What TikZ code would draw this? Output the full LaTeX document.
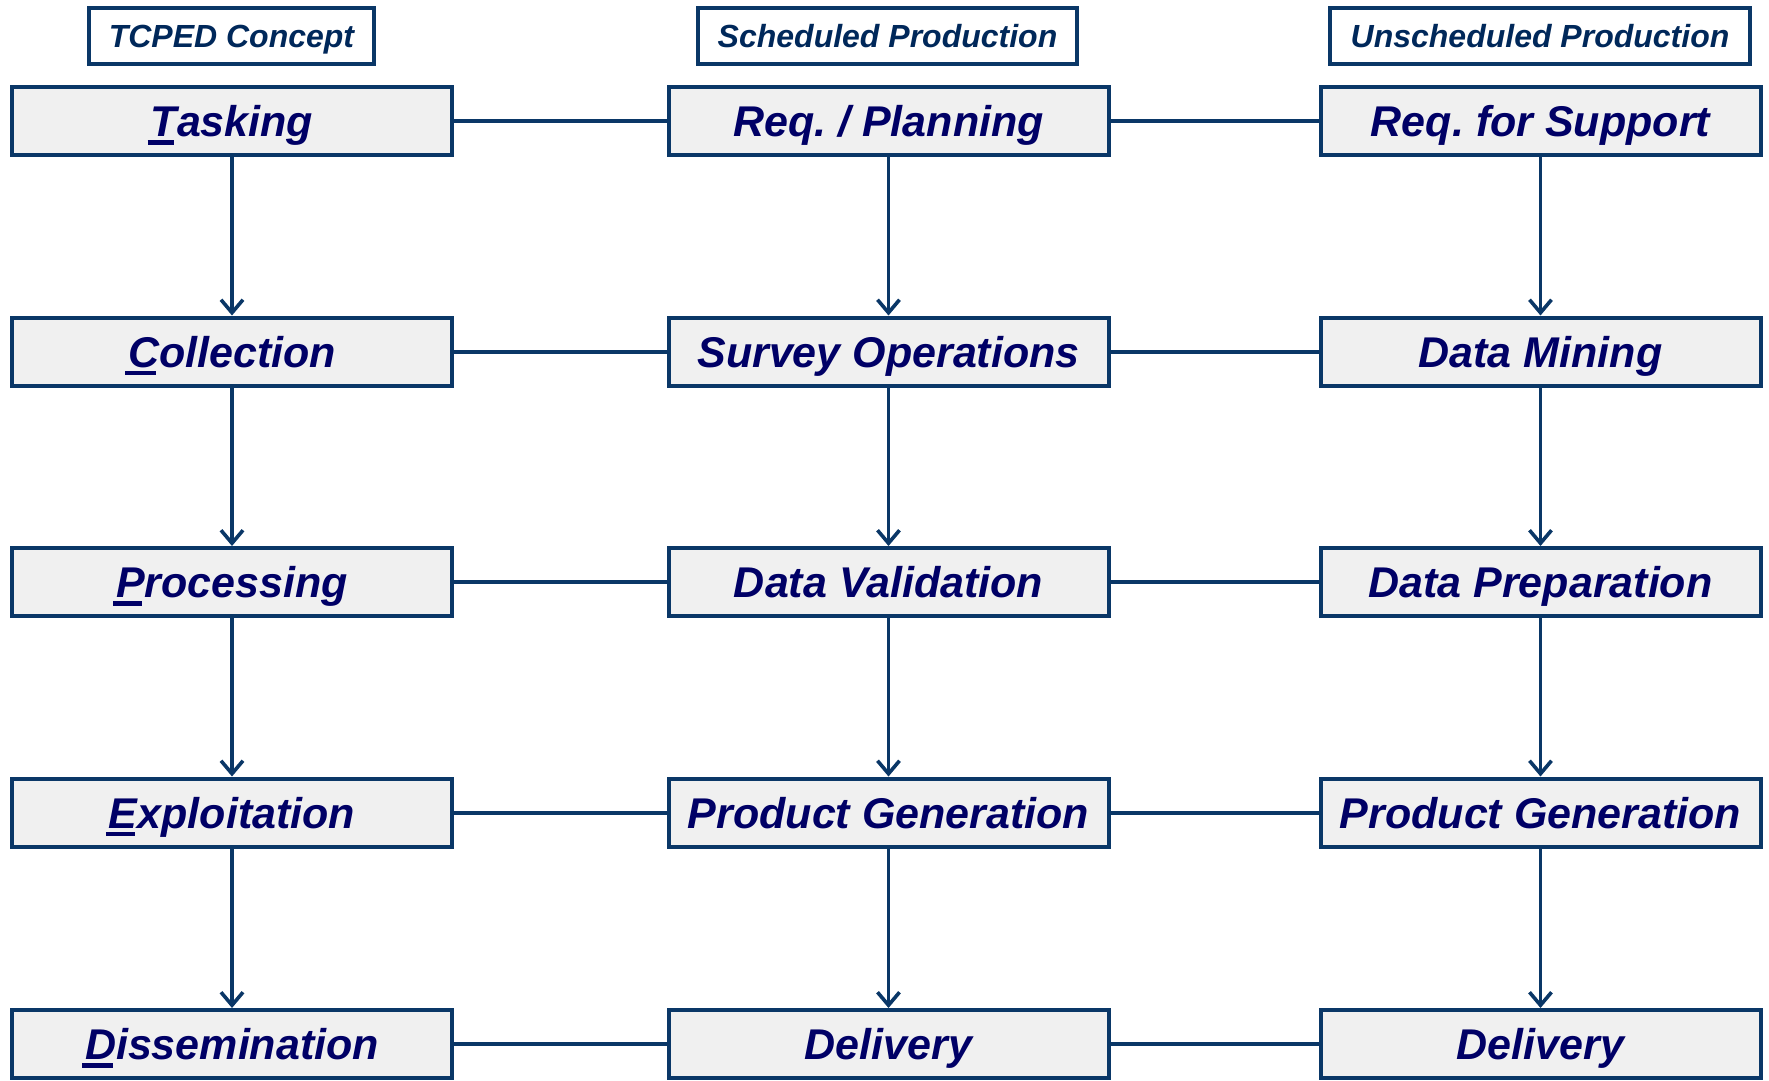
\documentclass[tikz,border=0pt]{standalone}
\usepackage{fontspec}
\setmainfont{Liberation Sans}
\usetikzlibrary{arrows.meta}
\definecolor{bord}{HTML}{0A3767}
\definecolor{txt}{HTML}{000066}
\definecolor{headtxt}{HTML}{00285A}
\definecolor{fillg}{HTML}{F0F0F0}
\frenchspacing
\newcommand\firstul[1]{\setbox0\hbox{#1}\rlap{\hspace{-0.07em}\rule[-0.19em]{\wd0}{0.1em}}\box0}
\begin{document}
\begin{tikzpicture}[x=1pt,y=-1pt,
 stagebox/.style={draw=bord, line width=4pt, fill=fillg, minimum width=440pt, minimum height=68pt, inner sep=0pt, text=txt, text height=31pt, text depth=0pt, font=\fontsize{43}{50}\selectfont\bfseries\itshape\frenchspacing},
 headbox/.style={draw=bord, line width=4pt, fill=white, minimum height=56pt, inner sep=0pt, text=headtxt, text height=23pt, text depth=0pt, font=\fontsize{32}{38}\selectfont\bfseries\itshape},
 link/.style={draw=bord, line width=4pt},
 flow/.style={draw=bord, line width=3.6pt, -{Straight Barb[length=13pt,width=22pt]}}]
\useasboundingbox (0,0) rectangle (1769,1080);
% headers
\node[headbox, minimum width=285pt] (h1) at (231.5,36) {TCPED Concept};
\node[headbox, minimum width=379pt] (h2) at (887.5,36) {Scheduled Production};
\node[headbox, minimum width=420pt] (h3) at (1540,36) {Unscheduled Production};
% column 1
\node[stagebox] (a1) at (232,121) {\firstul{T}asking};
\node[stagebox] (a2) at (232,351.5) {\firstul{C}ollection};
\node[stagebox] (a3) at (232,582) {\firstul{P}rocessing};
\node[stagebox] (a4) at (232,812.5) {\firstul{E}xploitation};
\node[stagebox] (a5) at (232,1044) {\firstul{D}issemination};
% column 2
\node[stagebox] (b1) at (888.5,121) {Req. / Planning};
\node[stagebox] (b2) at (888.5,351.5) {Survey Operations};
\node[stagebox] (b3) at (888.5,582) {Data Validation};
\node[stagebox] (b4) at (888.5,812.5) {Product Generation};
\node[stagebox] (b5) at (888.5,1044) {Delivery};
% column 3
\node[stagebox] (c1) at (1540.5,121) {Req. for Support};
\node[stagebox] (c2) at (1540.5,351.5) {Data Mining};
\node[stagebox] (c3) at (1540.5,582) {Data Preparation};
\node[stagebox] (c4) at (1540.5,812.5) {Product Generation};
\node[stagebox] (c5) at (1540.5,1044) {Delivery};
% horizontal links
\foreach \i in {1,...,5}{
  \draw[link] (a\i.east) -- (b\i.west);
  \draw[link] (b\i.east) -- (c\i.west);
}
% vertical flows
\foreach \i/\j in {1/2,2/3,3/4,4/5}{
  \draw[flow] (a\i.south) -- (a\j.north);
  \draw[flow] (b\i.south) -- (b\j.north);
  \draw[flow] (c\i.south) -- (c\j.north);
}
\end{tikzpicture}
\end{document}
